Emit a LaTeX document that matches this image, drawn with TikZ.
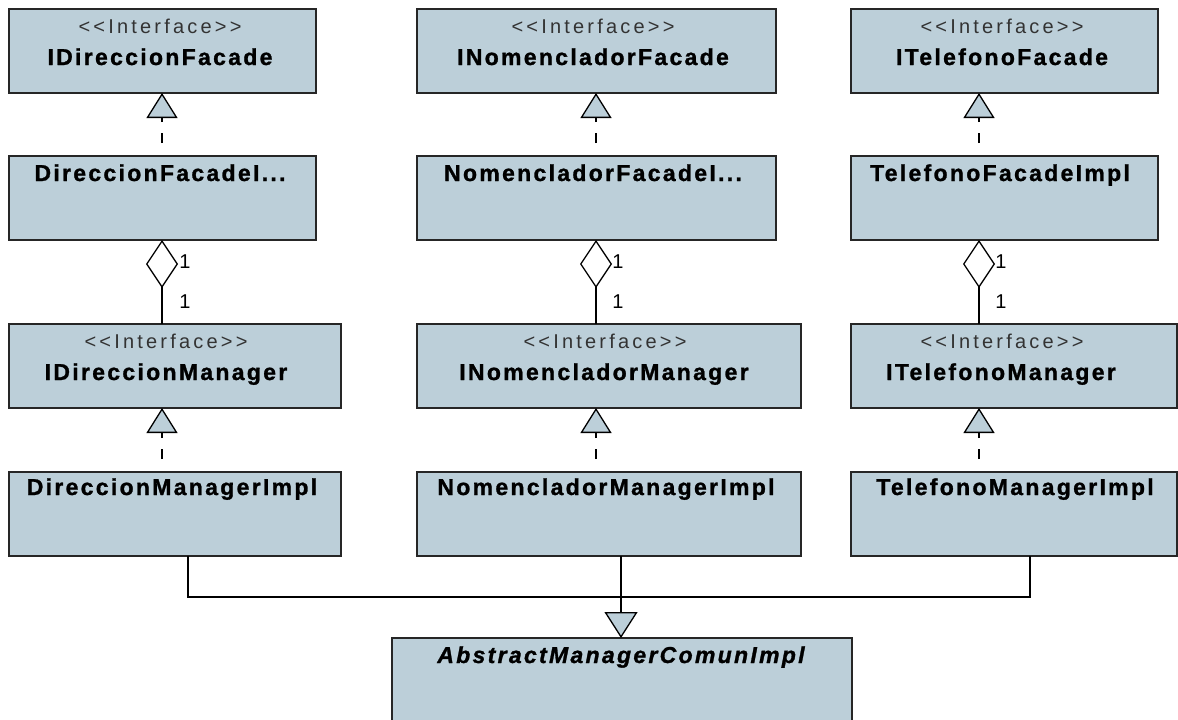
\documentclass[tikz,border=0pt]{standalone}
\usepackage{fontspec}
\setmainfont{Liberation Sans}
% spaced faces for class names and stereotypes
\newfontfamily\umlname[LetterSpace=10,
  BoldFeatures={FakeBold=1.2},
  BoldItalicFeatures={FakeBold=1.2}]{Liberation Sans}
\newfontfamily\umlstereo[LetterSpace=16]{Liberation Sans}
\usetikzlibrary{arrows.meta}
\definecolor{boxfill}{RGB}{188,207,217}

\tikzset{
  umlbox/.style={draw=black!85, line width=1.5pt, fill=boxfill, rectangle,
    anchor=north west, inner sep=0pt, outer sep=0pt, minimum height=84pt},
  stereo/.style={anchor=base, inner sep=0pt, text=black!80,
    font=\umlstereo\fontsize{20}{22}\selectfont},
  cname/.style={anchor=base, inner sep=0pt,
    font=\umlname\bfseries\fontsize{23}{26}\selectfont},
  aname/.style={anchor=base, inner sep=0pt,
    font=\umlname\bfseries\itshape\fontsize{23}{26}\selectfont},
  mult/.style={inner sep=0pt, font=\fontsize{20}{22}\selectfont},
  conn/.style={line width=1.3pt, draw=black},
  realize/.style={conn, dash pattern=on 0pt off 13pt on 10pt off 11pt on 30pt,
    -{Triangle[width=31pt,length=25pt,fill=boxfill]}},
  aggr/.style={conn, {Diamond[width=32pt,length=48pt,fill=white]}-},
  general/.style={conn, -{Triangle[width=33pt,length=26pt,fill=boxfill]}}
}

\begin{document}
\begin{tikzpicture}[x=1pt,y=-1pt]
\useasboundingbox (0,0) rectangle (1178,720);
\clip (0,0) rectangle (1178,720);

% column guides for connectors
\coordinate (xL) at (162,0);
\coordinate (xM) at (596,0);
\coordinate (xR) at (979,0);
\coordinate (bL) at (188,0);
\coordinate (bM) at (621,0);
\coordinate (bR) at (1030,0);

% row 1: facade interfaces
\node[umlbox, minimum width=307pt] (dF) at (9,9) {};
\node[umlbox, minimum width=359pt] (nF) at (417,9) {};
\node[umlbox, minimum width=307pt] (tF) at (851,9) {};
% row 2: facade implementations
\node[umlbox, minimum width=307pt] (dFI) at (9,156) {};
\node[umlbox, minimum width=359pt] (nFI) at (417,156) {};
\node[umlbox, minimum width=307pt] (tFI) at (851,156) {};
% row 3: manager interfaces
\node[umlbox, minimum width=332pt] (dM) at (9,324) {};
\node[umlbox, minimum width=384pt] (nM) at (417,324) {};
\node[umlbox, minimum width=326pt] (tM) at (851,324) {};
% row 4: manager implementations
\node[umlbox, minimum width=332pt] (dMI) at (9,472) {};
\node[umlbox, minimum width=384pt] (nMI) at (417,472) {};
\node[umlbox, minimum width=326pt] (tMI) at (851,472) {};
% abstract base class
\node[umlbox, minimum width=460pt, minimum height=110pt] (abs) at (392,638) {};

% labels
\node[stereo] (sdF) at (160,33) {<<Interface>>};
\node[cname]  (ndF) at (160,65) {IDireccionFacade};
\node[stereo] (snF) at (593,33) {<<Interface>>};
\node[cname]  (nnF) at (593,65) {INomencladorFacade};
\node[stereo] (stF) at (1002,33) {<<Interface>>};
\node[cname]  (ntF) at (1002,65) {ITelefonoFacade};

\node[cname] (ndFI) at (160,181) {DireccionFacadeI...};
\node[cname] (nnFI) at (593,181) {NomencladorFacadeI...};
\node[cname] (ntFI) at (1000,181) {TelefonoFacadeImpl};

\node[stereo] (sdM) at (166,348) {<<Interface>>};
\node[cname]  (ndM) at (166,380) {IDireccionManager};
\node[stereo] (snM) at (605,348) {<<Interface>>};
\node[cname]  (nnM) at (604,380) {INomencladorManager};
\node[stereo] (stM) at (1002,348) {<<Interface>>};
\node[cname]  (ntM) at (1001,380) {ITelefonoManager};

\node[cname] (ndMI) at (172,495) {DireccionManagerImpl};
\node[cname] (nnMI) at (606,495) {NomencladorManagerImpl};
\node[cname] (ntMI) at (1015,495) {TelefonoManagerImpl};

\node[aname] (nabs) at (621,663) {AbstractManagerComunImpl};

% realizations
\draw[realize] (dFI.north -| xL) -- (dF.south -| xL);
\draw[realize] (nFI.north -| xM) -- (nF.south -| xM);
\draw[realize] (tFI.north -| xR) -- (tF.south -| xR);
\draw[realize] (dMI.north -| xL) -- (dM.south -| xL);
\draw[realize] (nMI.north -| xM) -- (nM.south -| xM);
\draw[realize] (tMI.north -| xR) -- (tM.south -| xR);

% aggregations
\draw[aggr] (dFI.south -| xL) -- (dM.north -| xL);
\draw[aggr] (nFI.south -| xM) -- (nM.north -| xM);
\draw[aggr] (tFI.south -| xR) -- (tM.north -| xR);

% multiplicities
\node[mult] (m1) at (185,262) {1};
\node[mult] (m2) at (185,302) {1};
\node[mult] (m3) at (618,262) {1};
\node[mult] (m4) at (618,302) {1};
\node[mult] (m5) at (1001,262) {1};
\node[mult] (m6) at (1001,302) {1};

% generalization tree
\coordinate (j) at (621,597);
\draw[conn] (dMI.south -| bL) |- (j);
\draw[conn] (tMI.south -| bR) |- (j);
\draw[general] (nMI.south -| bM) -- (abs.north -| bM);
\end{tikzpicture}
\end{document}
